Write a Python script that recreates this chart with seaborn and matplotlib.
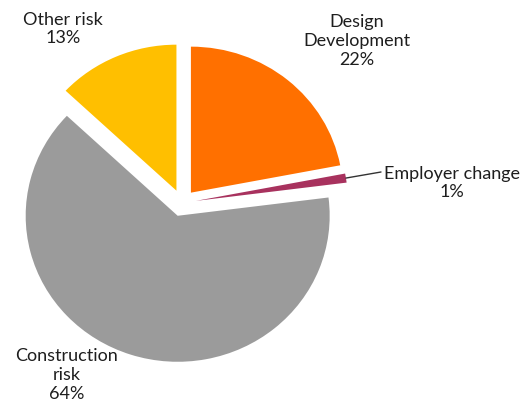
import matplotlib
matplotlib.use("Agg")
import matplotlib.pyplot as plt
import seaborn as sns
import numpy as np

categories = ["Design\nDevelopment", "Employer change", "Construction\nrisk", "Other risk"]
values = [22, 1, 64, 13]
colors = ["#FF7000", "#A8325E", "#9B9B9B", "#FFBF00"]

sns.set_theme(style="white")
plt.rcParams['font.family'] = ['Lato', 'DejaVu Sans']

W, H = 524, 410
fig = plt.figure(figsize=(W / 100, H / 100), dpi=100)
ax = fig.add_axes([0, 0, 1, 1])

explode = [0.092] * len(values)
wedges, _ = ax.pie(values, colors=colors, startangle=90, counterclock=False,
                   explode=explode, radius=1.0,
                   wedgeprops=dict(linewidth=0))

# pixel mapping: pie centre at (182, 204), 152 px/unit horizontally, 146 px/unit vertically
cx, cy, sx, sy = 182, 204, 152, 146
ax.set_aspect('auto')
ax.set_xlim(-cx / sx, (W - cx) / sx)
ax.set_ylim(-(H - cy) / sy, cy / sy)
ax.axis('off')

def d(px, py):
    return ((px - cx) / sx, (cy - py) / sy)

labels = [f"{c}\n{v}%" for c, v in zip(categories, values)]
label_px = [(357, 41), (452, 183), (67, 375), (63, 29)]
for lab, (px, py) in zip(labels, label_px):
    x, y = d(px, py)
    ax.text(x, y, lab, ha='center', va='center', fontsize=13,
            color='#1E1E1E', linespacing=1.2)

# leader line for the small slice
w = wedges[1]
mid = np.deg2rad((w.theta1 + w.theta2) / 2)
ox, oy = w.center
sx0 = ox + w.r * np.cos(mid)
sy0 = oy + w.r * np.sin(mid)
ex, ey = d(381, 173)
ax.plot([sx0, ex], [sy0, ey], color='#333333', linewidth=1)

fig.savefig("out.png", dpi=100, facecolor='white')
